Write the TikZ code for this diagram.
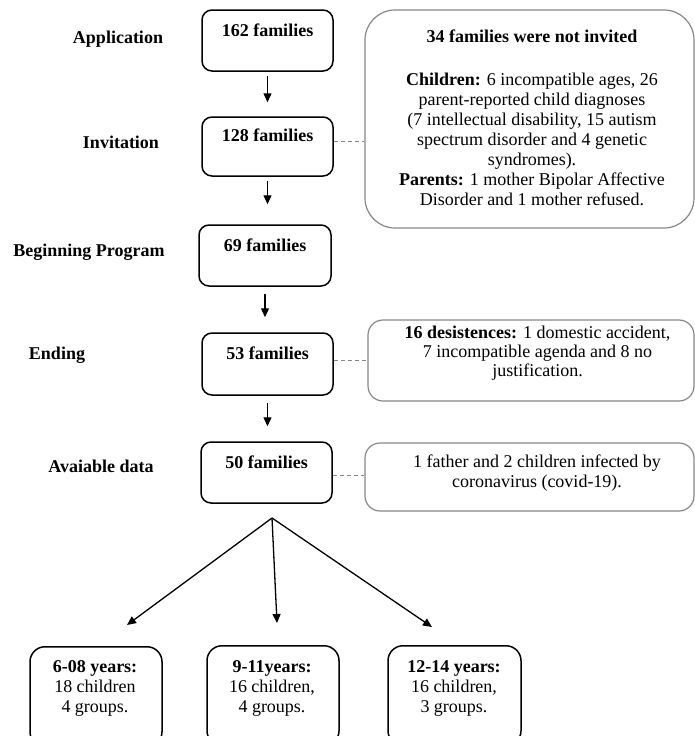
\documentclass[tikz,border=0pt]{standalone}
\usepackage{fontspec}
\setmainfont{Liberation Serif}
\usetikzlibrary{arrows.meta,calc}
\definecolor{boxgray}{RGB}{135,135,135}
\begin{document}
\begin{tikzpicture}[x=1pt,y=-1pt,
  every node/.style={font=\fontsize{18}{20}\selectfont, inner sep=0pt},
  mainbox/.style={draw, line width=1.5pt, rounded corners=10pt, minimum width=131pt, minimum height=61pt},
  sidebox/.style={draw=boxgray, line width=1.2pt, rounded corners=15pt},
  agebox/.style={draw, line width=1.5pt, rounded corners=15pt, minimum width=132pt, minimum height=100pt, anchor=north},
  lbl/.style={font=\fontsize{18}{20}\selectfont\bfseries},
  txt/.style={align=center},
  flow/.style={-{Triangle[length=9pt,width=8pt]}, line width=1.3pt},
  graydash/.style={draw=boxgray, line width=0.8pt, dash pattern=on 4pt off 3pt}
]
\useasboundingbox (0,0) rectangle (695,736);
\clip (0,0) rectangle (695,736);

% stage labels
\node[lbl] (l1) at (118,39) {Application};
\node[lbl] (l2) at (121,142) {Invitation};
\node[lbl] (l3) at (89,252) {Beginning Program};
\node[lbl] (l4) at (57,355) {Ending};
\node[lbl] (l5) at (101,466) {Avaiable data};

% main boxes
\node[mainbox] (b1) at (267.5,40.5) {};
\node[mainbox, minimum height=59pt] (b2) at (267.5,146.5) {};
\node[mainbox, minimum width=132pt] (b3) at (265,255.5) {};
\node[mainbox, minimum height=62pt] (b4) at (267.5,364) {};
\node[mainbox] (b5) at (266.5,472.5) {};

\node[lbl] (t1) at (267.5,30) {162 families};
\node[lbl] (t2) at (267.5,135) {128 families};
\node[lbl] (t3) at (265,245) {69 families};
\node[lbl] (t4) at (267.5,353) {53 families};
\node[lbl] (t5) at (266.5,462) {50 families};

% arrows between main boxes
\draw[flow, shorten <=4pt, shorten >=14pt] (b1.south) -- (b1.south |- b2.north);
\draw[flow, shorten <=4pt, shorten >=20pt] (b2.south) -- (b2.south |- b3.north);
\draw[flow, shorten <=7pt, shorten >=15pt] (b3.south) -- (b3.south |- b4.north);
\draw[flow, shorten <=7pt, shorten >=15pt] (b4.south) -- (b4.south |- b5.north);

% side boxes
\node[sidebox, rounded corners=30pt, minimum width=329pt, minimum height=218pt] (s1) at (529.5,119) {};
\node[sidebox, minimum width=326pt, minimum height=81pt] (s2) at (531,360.5) {};
\node[sidebox, minimum width=329pt, minimum height=68pt] (s3) at (529.5,477) {};

\node[txt] (s1t) at (532,118) {\textbf{34 families were not invited}\\[23pt]
\textbf{Children:} 6 incompatible ages, 26\\
parent-reported child diagnoses\\
(7 intellectual disability, 15 autism\\
spectrum disorder and 4 genetic\\
syndromes).\\
\textbf{Parents:} 1 mother Bipolar Affective\\
Disorder and 1 mother refused.};
\node[txt, font=\fontsize{18}{19}\selectfont] (s2t) at (537.5,353) {\textbf{16 desistences:} 1 domestic accident,\\
7 incompatible agenda and 8 no\\
justification.};
\node[txt] (s3t) at (537,473) {1 father and 2 children infected by\\
coronavirus (covid-19).};

% dashed connectors
\draw[graydash] ([yshift=5.5pt]b2.east) -- ([yshift=5.5pt]b2.east -| s1.west);
\draw[graydash] ([yshift=4pt]b4.east) -- ([yshift=4pt]b4.east -| s2.west);
\draw[graydash] ([yshift=-2.5pt]b5.east) -- ([yshift=-2.5pt]b5.east -| s3.west);

% split
\coordinate (split) at (272,518);
\coordinate (tipL) at (127,625);
\coordinate (tipM) at (277,623);
\coordinate (tipR) at (432,627);
\draw[flow] (split) -- (tipL);
\draw[flow] (split) -- (tipM);
\draw[flow] (split) -- (tipR);

% age boxes
\node[agebox] (a1) at (96,646) {};
\node[agebox] (a2) at (273,645) {};
\node[agebox, minimum width=133pt] (a3) at (454.5,645) {};

\node[txt] (a1t) at (95,688) {\textbf{6-08 years:}\\18 children\\4 groups.};
\node[txt] (a2t) at (272,688) {\textbf{9-11years:}\\16 children,\\4 groups.};
\node[txt] (a3t) at (454,688) {\textbf{12-14 years:}\\16 children,\\3 groups.};
\end{tikzpicture}
\end{document}
